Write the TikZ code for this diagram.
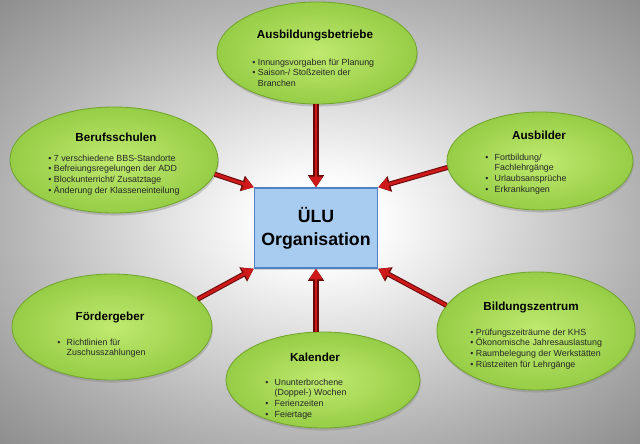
\documentclass[tikz,border=0pt]{standalone}
\usepackage{fontspec}
\setmainfont{Liberation Sans}
\usetikzlibrary{arrows.meta,shapes.geometric,shadows}

\definecolor{blattgruen}{RGB}{150,205,70}
\definecolor{blatthell}{RGB}{192,234,112}
\definecolor{blattrand}{RGB}{115,165,45}
\definecolor{kastenblau}{RGB}{168,204,240}
\definecolor{kastenrand}{RGB}{80,130,195}
\definecolor{pfeilrot}{RGB}{205,25,25}
\definecolor{pfeilrand}{RGB}{105,10,10}
\definecolor{hgmitte}{RGB}{252,252,252}
\definecolor{hgrand}{RGB}{178,178,178}
\definecolor{hgecke}{RGB}{140,140,140}
\pgfdeclareradialshading{hintergrund}{\pgfpoint{0bp}{0bp}}{color(0bp)=(hgmitte); color(5bp)=(hgmitte); color(25bp)=(hgrand); color(36bp)=(hgecke); color(50bp)=(hgecke)}

% bullet list: gap after the bullet, rows
\newcommand{\punkte}[2]{\begin{tabular}[t]{@{}l@{\hspace{#1}}l@{}}#2\end{tabular}}

\begin{document}
\begin{tikzpicture}[x=0.025cm, y=-0.025cm,
  bereich/.style={ellipse, draw=blattrand, line width=0.6pt, inner sep=0pt,
    inner color=blatthell, outer color=blattgruen,
    drop shadow={shadow xshift=0.6pt, shadow yshift=-1.8pt, opacity=0.35}},
  titel/.style={font=\fontsize{8.3}{10}\selectfont\bfseries, inner sep=0pt},
  liste/.style={anchor=base west, inner sep=0pt, text=black!85,
    font=\fontsize{6.3}{7.7}\selectfont},
  kasten/.style={rectangle, draw=kastenrand, line width=1pt, fill=kastenblau,
    minimum width=3.075cm, minimum height=2cm, align=center,
    font=\fontsize{12.6}{16.4}\selectfont\bfseries,
    drop shadow={shadow xshift=0.6pt, shadow yshift=-1.2pt, opacity=0.3}},
  pfeil/.style={draw=pfeilrot, line width=2.1pt,
    -{Triangle[length=7.5pt,width=9pt]},
    preaction={draw=pfeilrand, line width=3.6pt, -{Triangle[length=8.6pt,width=11pt]}}}]

  \useasboundingbox (0,0) rectangle (640,443);
  \shade[shading=hintergrund] (0,0) rectangle (640,443);

  % Bereiche rund um die Organisation
  \node[bereich, minimum width=5cm, minimum height=2.55cm] (betriebe) at (317,53) {};
  \node[titel] (betriebe-t) at (315,36) {Ausbildungsbetriebe};
  \node[liste] (betriebe-l) at (252,65) {\punkte{1.8pt}{\textbullet & Innungsvorgaben für Planung\\
    \textbullet & Saison-/ Stoßzeiten der\\ & Branchen}};

  \node[bereich, minimum width=5.2cm, minimum height=2.65cm] (berufs) at (114,160) {};
  \node[titel] (berufs-t) at (116,137) {Berufsschulen};
  \node[liste] (berufs-l) at (48,161) {\punkte{1.8pt}{\textbullet & 7 verschiedene BBS-Standorte\\
    \textbullet & Befreiungsregelungen der ADD\\
    \textbullet & Blockunterricht/ Zusatztage\\
    \textbullet & Änderung der Klasseneinteilung}};

  \node[bereich, minimum width=4.65cm, minimum height=2.45cm] (ausbilder) at (540,161) {};
  \node[titel] (ausbilder-t) at (539,135) {Ausbilder};
  \node[liste] (ausbilder-l) at (485,160) {\punkte{4.5pt}{\textbullet & Fortbildung/\\ & Fachlehrgänge\\
    \textbullet & Urlaubsansprüche\\
    \textbullet & Erkrankungen}};

  \node[bereich, minimum width=5cm, minimum height=2.65cm] (foerder) at (112,327) {};
  \node[titel] (foerder-t) at (110,318) {Fördergeber};
  \node[liste] (foerder-l) at (57,345) {\punkte{4.5pt}{\textbullet & Richtlinien für\\ & Zuschusszahlungen}};

  \node[bereich, minimum width=4.85cm, minimum height=2.4cm] (kalender) at (323,380) {};
  \node[titel] (kalender-t) at (315,357) {Kalender};
  \node[liste] (kalender-l) at (265,385) {\punkte{4.5pt}{\textbullet & Ununterbrochene\\ & (Doppel-) Wochen\\
    \textbullet & Ferienzeiten\\
    \textbullet & Feiertage}};

  \node[bereich, minimum width=4.95cm, minimum height=2.95cm] (bildung) at (536,331) {};
  \node[titel] (bildung-t) at (531,308) {Bildungszentrum};
  \node[liste] (bildung-l) at (470,335) {\punkte{1.8pt}{\textbullet & Prüfungszeiträume der KHS\\
    \textbullet & Ökonomische Jahresauslastung\\
    \textbullet & Raumbelegung der Werkstätten\\
    \textbullet & Rüstzeiten für Lehrgänge}};

  % Mitte
  \node[kasten] (ulu) at (316,228) {ÜLU\\Organisation};

  \draw[pfeil] (ulu.north |- betriebe.south) -- (ulu.north);
  \draw[pfeil] (berufs.-8) -- (ulu.north west);
  \draw[pfeil] (ausbilder.184) -- (ulu.north east);
  \draw[pfeil] (foerder.18) -- (ulu.south west);
  \draw[pfeil] (ulu.south |- kalender.north) -- (ulu.south);
  \draw[pfeil] (bildung.164) -- (ulu.south east);
\end{tikzpicture}
\end{document}
